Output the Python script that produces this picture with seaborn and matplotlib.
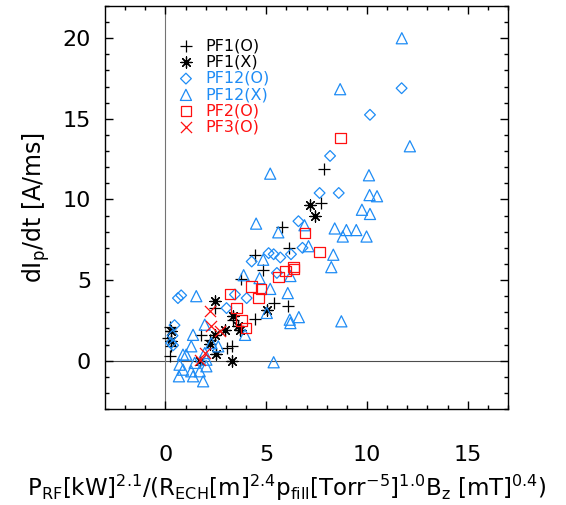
import matplotlib
matplotlib.use("Agg")
import matplotlib.pyplot as plt
import seaborn as sns

# PF1(O)  '+'
pf1o_x = [7.87, 7.70, 5.78, 6.14, 4.42, 4.85, 3.75, 5.37, 6.08, 4.45, 2.45, 3.37,
          1.78, 3.28, 3.03, 0.23, 0.12, 0.28, 0.23, 2.20]
pf1o_y = [11.86, 9.80, 8.27, 6.98, 6.55, 5.64, 5.08, 3.57, 3.40, 2.60, 3.26, 2.54,
          1.60, 0.89, 0.78, 2.08, 1.40, 0.89, 0.31, 1.30]

# PF1(X)  asterisk
pf1x_x = [7.17, 7.43, 5.03, 3.37, 3.70, 2.45, 3.62, 2.95, 2.45, 2.20, 2.53, 1.70,
          3.28, 0.28, 0.28]
pf1x_y = [9.63, 9.00, 3.16, 2.75, 1.92, 3.68, 2.13, 1.88, 1.60, 1.05, 0.40, -0.05,
          0.00, 1.82, 1.19]

# PF12(O)  diamond
pf12o_x = [11.72, 10.15, 8.17, 7.65, 8.60, 6.60, 6.80, 6.23, 5.70, 5.12, 5.37, 4.28,
           5.53, 4.03, 3.45, 3.03, 0.62, 0.78, 0.28, 0.45, 0.35, 0.38]
pf12o_y = [16.90, 15.25, 12.70, 10.40, 10.40, 8.65, 7.00, 6.60, 6.40, 6.67, 6.60, 6.15,
           5.44, 3.88, 4.10, 3.26, 3.88, 4.05, 1.10, 2.20, 1.55, 0.95]

# PF12(X)  triangle
pf12x_x = [11.73, 8.67, 12.13, 5.20, 10.10, 10.13, 10.50, 9.75, 10.15, 6.90, 8.40, 8.98,
           9.47, 8.80, 9.98, 7.10, 8.33, 8.23, 4.50, 5.60, 4.85, 3.88, 4.67, 6.20,
           5.20, 6.07, 6.17, 6.62, 8.73, 5.03, 6.20, 1.53, 1.95, 3.95, 1.37, 2.28,
           2.62, 1.28, 1.03, 2.03, 1.95, 5.37, 0.87, 1.28, 1.70, 0.70, 1.45, 1.37,
           1.87, 2.03, 0.67, 0.87]
pf12x_y = [20.00, 16.84, 13.30, 11.60, 11.50, 10.27, 10.20, 9.36, 9.10, 8.40, 8.20, 8.10,
           8.10, 7.70, 7.70, 7.10, 6.57, 5.80, 8.50, 7.96, 6.26, 5.30, 5.12, 5.25,
           4.45, 4.19, 2.54, 2.70, 2.44, 2.96, 2.33, 4.00, 2.23, 1.60, 1.60, 1.09,
           0.89, 0.89, 0.37, 0.06, 0.47, -0.10, -0.56, -0.66, -0.66, -0.25, -0.14, -0.97,
           -1.28, -0.35, -0.97, 0.37]

# PF2(O)  square
pf2_x = [8.68, 6.93, 7.65, 6.35, 5.62, 5.95, 6.37, 4.28, 4.75, 4.62, 3.20, 3.53,
         3.78, 4.00]
pf2_y = [13.82, 7.90, 6.74, 5.80, 5.18, 5.55, 5.70, 4.60, 4.46, 3.88, 4.15, 3.25,
         2.50, 2.03]

# PF3(O)  x
pf3_x = [2.20, 2.28, 2.70, 1.95, 1.70]
pf3_y = [3.06, 2.13, 1.82, 0.47, 0.06]

blue = "#1E8CF5"
red = "#FF1010"

sns.set_style("ticks")
plt.rcParams["font.family"] = ["DejaVu Sans"]
plt.rcParams["mathtext.default"] = "regular"
plt.rcParams["text.color"] = "black"
plt.rcParams["axes.labelcolor"] = "black"

fig = plt.figure(figsize=(5.66, 5.05), dpi=100)
ax = fig.add_axes([105 / 566, 1 - 409 / 505, 403 / 566, 403 / 505])

ax.axhline(0, color="0.3", lw=0.8, zorder=0)
ax.axvline(0, color="0.45", lw=0.8, zorder=0)

sns.scatterplot(x=pf1o_x, y=pf1o_y, marker="+", color="black", edgecolor=None,
                s=64, linewidth=0.9, label="PF1(O)", ax=ax)
sns.scatterplot(x=pf1x_x, y=pf1x_y, marker=(8, 2, 0), color="black", edgecolor=None,
                s=64, linewidth=0.9, label="PF1(X)", ax=ax)
sns.scatterplot(x=pf12o_x, y=pf12o_y, marker="D", facecolor="none", edgecolor=blue,
                s=30, linewidth=0.9, label="PF12(O)", ax=ax)
sns.scatterplot(x=pf12x_x, y=pf12x_y, marker="^", facecolor="none", edgecolor=blue,
                s=64, linewidth=0.9, label="PF12(X)", ax=ax)
sns.scatterplot(x=pf2_x, y=pf2_y, marker="s", facecolor="none", edgecolor=red,
                s=56, linewidth=0.9, label="PF2(O)", ax=ax)
sns.scatterplot(x=pf3_x, y=pf3_y, marker="x", color=red, edgecolor=None,
                s=64, linewidth=0.9, label="PF3(O)", ax=ax)

ax.set_xlim(-3, 17)
ax.set_ylim(-3, 22)
ax.set_xticks([0, 5, 10, 15])
ax.set_yticks([0, 5, 10, 15, 20])
ax.set_xticks(range(-2, 18), minor=True)
ax.set_yticks(range(-3, 23), minor=True)
ax.tick_params(which="both", direction="in", top=True, right=True, width=1.0,
               colors="black")
ax.tick_params(which="major", length=5.8, labelsize=16)
ax.tick_params(which="minor", length=3.0)
ax.tick_params(axis="x", which="major", pad=26)
ax.tick_params(axis="y", which="major", pad=10)
for sp in ax.spines.values():
    sp.set_linewidth(1.0)
    sp.set_color("black")

ax.set_xlabel(r"P$_{RF}$[kW]$^{2.1}$/(R$_{ECH}$[m]$^{2.4}$p$_{fill}$"
              r"[Torr$^{-5}$]$^{1.0}$B$_z$ [mT]$^{0.4}$)", fontsize=16.5, labelpad=4)
ax.xaxis.set_label_coords(0.452, -0.158)
ax.xaxis.label.set_va("top")
ax.set_ylabel(r"dI$_p$/dt [A/ms]", fontsize=17, labelpad=8)

leg = ax.legend(loc="upper left", bbox_to_anchor=(0.181, 0.92), frameon=False,
                fontsize=11.5, handlelength=1.0, handletextpad=0.7,
                labelspacing=0.08, borderpad=0, borderaxespad=0)
for t, c in zip(leg.get_texts(), ["black", "black", blue, blue, red, red]):
    t.set_color(c)

fig.savefig("out.png", dpi=100)
